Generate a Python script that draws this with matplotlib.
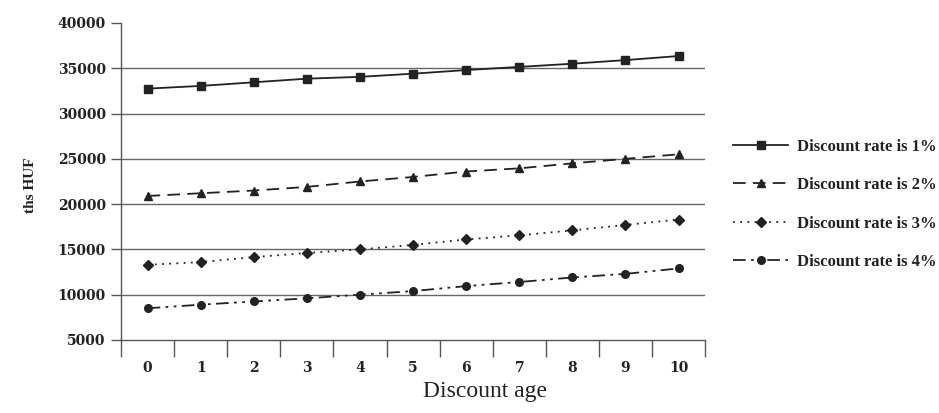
import matplotlib.pyplot as plt

plt.rcParams['font.family'] = ['Liberation Serif', 'DejaVu Serif']

ages = list(range(11))
rate_1 = [32750, 33050, 33450, 33850, 34050, 34400, 34800, 35150, 35500, 35900, 36350]
rate_2 = [20900, 21200, 21500, 21900, 22500, 23000, 23600, 23950, 24500, 25000, 25500]
rate_3 = [13300, 13600, 14150, 14600, 15000, 15500, 16100, 16550, 17100, 17700, 18300]
rate_4 = [8500, 8900, 9250, 9600, 10000, 10400, 10950, 11400, 11900, 12300, 12900]
labels = ["Discount rate is 1%", "Discount rate is 2%",
          "Discount rate is 3%", "Discount rate is 4%"]

fig = plt.figure(figsize=(9.39, 4.13), dpi=100)
ax = fig.add_axes([0.1289, 0.1768, 0.622, 0.7676])

c = '#222222'
ax.plot(ages, rate_1, '-', color=c, lw=1.3, marker='s', ms=6, label=labels[0])
ax.plot(ages, rate_2, color=c, lw=1.3, ls=(0, (7, 4)), marker='^', ms=6, label=labels[1])
ax.plot(ages, rate_3, color=c, lw=1.3, ls=(0, (1, 3)), marker='D', ms=5, label=labels[2])
ax.plot(ages, rate_4, color=c, lw=1.3, ls=(0, (7, 3, 1.5, 3, 1.5, 3)), marker='o', ms=5.5, label=labels[3])

ax.set_ylim(5000, 40000)
ax.set_yticks(range(5000, 40001, 5000))
for y in range(10000, 40000, 5000):
    ax.axhline(y, color='#666666', lw=1, zorder=0)

ax.set_xlim(-0.5, 10.5)
ax.set_xticks([i - 0.5 for i in range(12)])
ax.set_xticklabels([])
ax.set_xticks(ages, minor=True)
ax.set_xticklabels([str(a) for a in ages], minor=True)
ax.tick_params(axis='x', which='major', length=12, color='#555555', width=1)
ax.tick_params(axis='x', which='minor', length=0, pad=15)
ax.tick_params(axis='y', length=7, color='#555555', width=1, pad=4)
for lab in ax.get_xticklabels(minor=True) + ax.get_yticklabels():
    lab.set_fontweight('bold')
    lab.set_color('#222222')
    lab.set_fontfamily('DejaVu Serif')
    lab.set_fontsize(10)

for s in ['top', 'right']:
    ax.spines[s].set_visible(False)
for s in ['left', 'bottom']:
    ax.spines[s].set_color('#555555')
    ax.spines[s].set_linewidth(1)
ax.spines['left'].set_bounds(5000, 40000)

fig.text(485 / 939, 1 - 392 / 413, "Discount age", fontsize=17, color='#222222',
         ha='center', va='center')
fig.text(30 / 939, 1 - 185 / 413, "ths HUF", fontsize=11, fontweight='bold',
         color='#222222', rotation=90, ha='center', va='center')

leg = fig.legend(loc='center left', bbox_to_anchor=(0.765, 0.505), frameon=False,
                 numpoints=1, handlelength=3.3, handletextpad=0.5, labelspacing=1.35,
                 prop={'weight': 'bold', 'size': 12})
for t in leg.get_texts():
    t.set_color('#222222')

fig.savefig('out.png', dpi=100)
